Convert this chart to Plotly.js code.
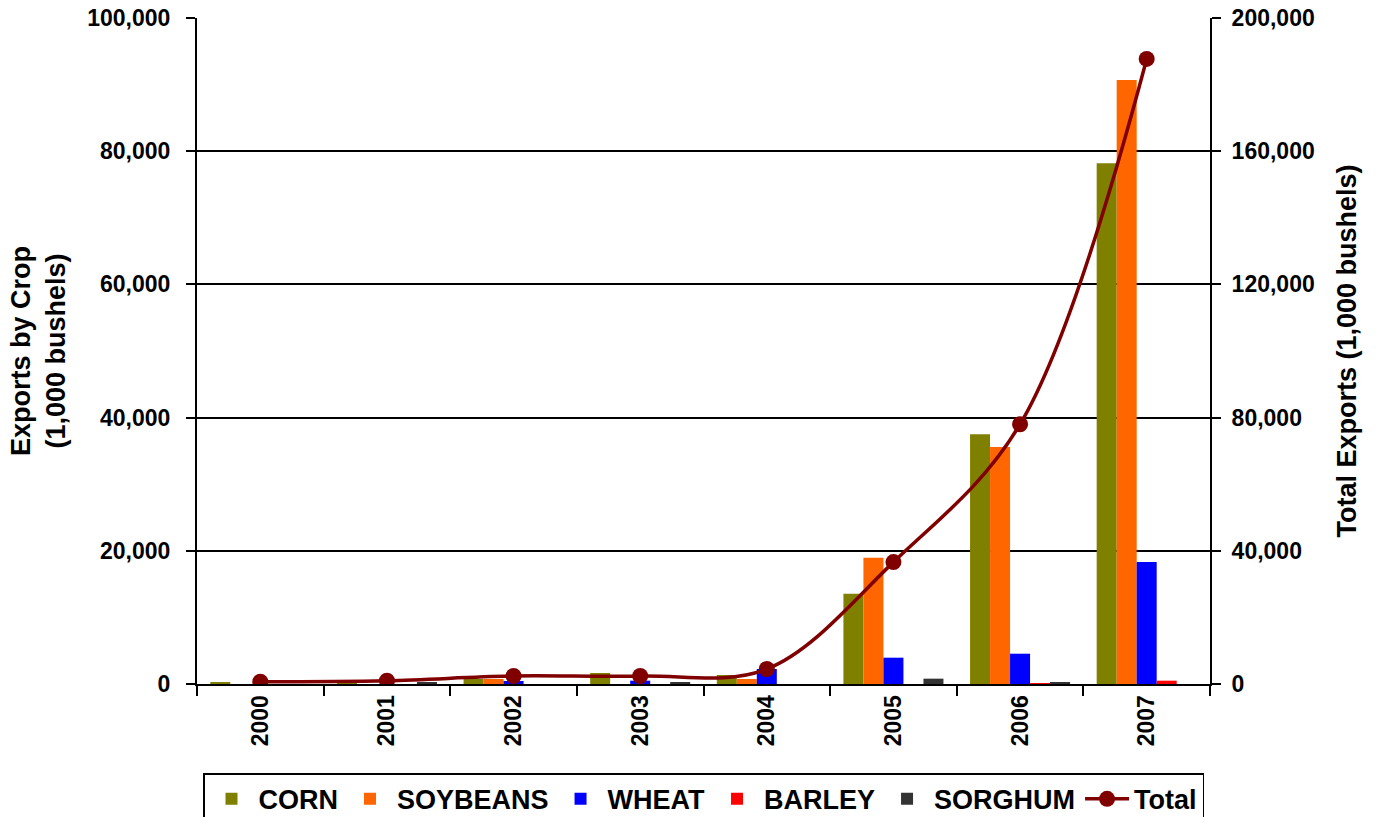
<!DOCTYPE html>
<html><head><meta charset="utf-8">
<script src="https://cdn.plot.ly/plotly-3.0.1.min.js"></script>
<style>html,body{margin:0;padding:0;background:#fff}#chart{width:1377px;height:817px}</style>
</head><body><div id="chart"></div>
<script>
const years = ['2000','2001','2002','2003','2004','2005','2006','2007'];
const corn     = [300, 100, 750, 1650, 1350, 13560, 37500, 78200];
const soybeans = [0, 0, 750, 0, 750, 18960, 35600, 90700];
const wheat    = [0, 0, 450, 500, 2250, 3950, 4550, 18300];
const barley   = [0, 0, 0, 0, 0, 0, 150, 500];
const sorghum  = [0, 200, 0, 300, 0, 800, 200, 0];
const total    = [700, 1000, 2400, 2400, 4500, 36600, 78000, 187700];

const F = {family:'"Liberation Sans", Arial, sans-serif', size:23, color:'#000', weight:'bold'};
function bar(name, y, color){ return {type:'bar', name, x:years, y, marker:{color}, yaxis:'y'}; }
const data = [
  bar('CORN', corn, '#808000'),
  bar('SOYBEANS', soybeans, '#FF6600'),
  bar('WHEAT', wheat, '#0000FF'),
  bar('BARLEY', barley, '#FF0000'),
  bar('SORGHUM', sorghum, '#333333'),
  {type:'scatter', mode:'lines+markers', name:'Total', x:years, y:total, yaxis:'y2',
   line:{color:'#800000', width:3.5, shape:'spline', smoothing:1}, marker:{color:'#800000', size:16}}
];
const layout = {
  width:1377, height:817,
  margin:{l:197, r:167, t:18, b:133, autoexpand:false},
  paper_bgcolor:'#fff', plot_bgcolor:'#fff',
  font:F,
  barmode:'group', bargap:0.21, bargroupgap:0,
  showlegend:true,
  legend:{orientation:'h', x:0.5, xanchor:'center', y:-0.134, yanchor:'top',
          bordercolor:'#000', borderwidth:1.5, font:{...F, size:27}, traceorder:'normal',
          itemwidth:44},
  xaxis:{type:'category', tickangle:-90, showline:true, linecolor:'#000', linewidth:2, automargin:true,
         ticks:'outside', tickson:'boundaries', ticklen:10, tickwidth:2, tickcolor:'#000',
         tickfont:{...F, size:23}, showgrid:false},
  yaxis:{range:[0,100000], dtick:20000, tickformat:',d', showline:true, linecolor:'#000', linewidth:2,
         automargin:true, ticklabelstandoff:11,
         ticks:'outside', ticklen:9, tickwidth:2, tickcolor:'#000', showgrid:true, gridcolor:'#000', gridwidth:2,
         zeroline:false, tickfont:{...F, size:23},
         title:{text:'Exports by Crop<br>(1,000 bushels)', font:{...F, size:27}, standoff:14}},
  yaxis2:{range:[0,200000], dtick:40000, tickformat:',d', overlaying:'y', side:'right', showline:true,
          automargin:true, ticklabelstandoff:6,
          linecolor:'#000', linewidth:2, ticks:'outside', ticklen:9, tickwidth:2, tickcolor:'#000',
          showgrid:false, zeroline:false, tickfont:{...F, size:23},
          title:{text:'Total Exports (1,000 bushels)', font:{...F, size:27}, standoff:23}}
};
Plotly.newPlot('chart', data, layout, {displayModeBar:false});
</script></body></html>
